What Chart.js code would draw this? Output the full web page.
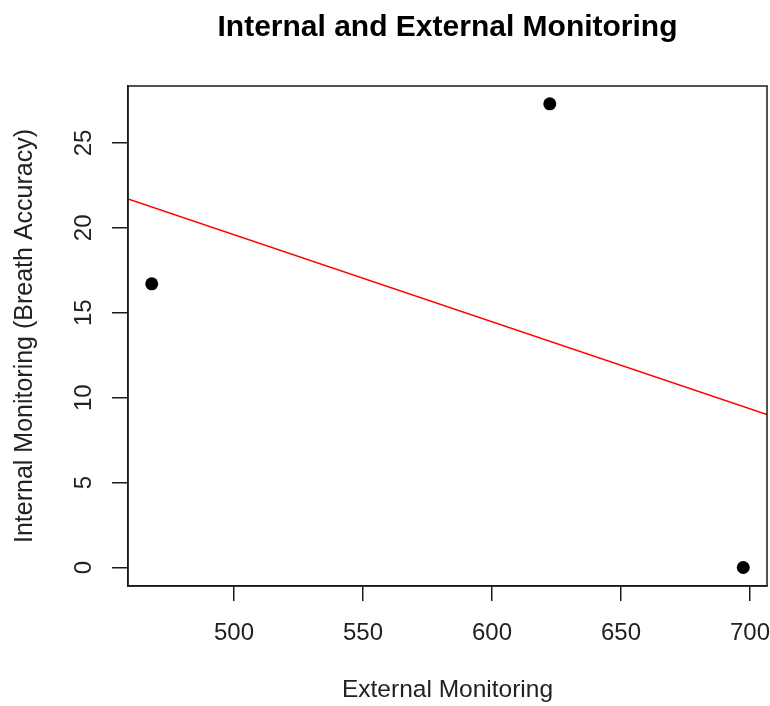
<!DOCTYPE html>
<html>
<head>
<meta charset="utf-8">
<title>Internal and External Monitoring</title>
<script src="https://cdn.jsdelivr.net/npm/chart.js@4"></script>
<style>
  html, body { margin: 0; padding: 0; background: #fff; }
  #wrap { width: 770px; height: 706px; }
</style>
</head>
<body>
<div id="wrap"><canvas id="chart" width="770" height="706"></canvas></div>
<script>
// values
const externalMonitoring = [468.1, 622.4, 697.4];
const internalMonitoring = [16.7, 27.3, 0.0];
// fitted line, ends at the plot edges
const fitX = [458.9, 706.6];
const fitY = [21.7, 9.0];
const xTicks = [500, 550, 600, 650, 700];
const yTicks = [0, 5, 10, 15, 20, 25];
const xRange = [458.9, 706.6];
const yRange = [-1.09, 28.35];

const FONT = "'Liberation Sans', Arial, Helvetica, sans-serif";
const INK = '#1a1a1a';

// R style frame, rotated y labels and the title
const rPlot = {
  id: 'rPlot',
  afterDraw(chart) {
    const ctx = chart.ctx;
    const a = chart.chartArea;
    const y = chart.scales.y;
    ctx.save();
    ctx.strokeStyle = INK;
    ctx.lineWidth = 1.5;
    ctx.strokeRect(a.left, a.top, a.right - a.left, a.bottom - a.top);

    ctx.fillStyle = '#222';
    ctx.font = '24px ' + FONT;
    ctx.textAlign = 'center';
    ctx.textBaseline = 'middle';
    y.ticks.forEach(t => {
      const py = y.getPixelForValue(t.value);
      ctx.save();
      ctx.translate(84, py);
      ctx.rotate(-Math.PI / 2);
      ctx.fillText(String(t.value), 0, 0);
      ctx.restore();
    });

    ctx.fillStyle = '#000';
    ctx.font = 'bold 30px ' + FONT;
    ctx.fillText('Internal and External Monitoring', (a.left + a.right) / 2, 28);
    ctx.restore();
  }
};

new Chart(document.getElementById('chart'), {
  type: 'scatter',
  data: {
    datasets: [
      {
        label: 'observations',
        data: externalMonitoring.map((x, i) => ({ x: x, y: internalMonitoring[i] })),
        backgroundColor: '#000',
        borderWidth: 0,
        pointRadius: 6.5,
        order: 1,
      },
      {
        type: 'line',
        label: 'fit',
        data: fitX.map((x, i) => ({ x: x, y: fitY[i] })),
        borderColor: '#ff0000',
        borderWidth: 1.5,
        pointRadius: 0,
        fill: false,
        order: 2,
      },
    ],
  },
  options: {
    responsive: false,
    animation: false,
    devicePixelRatio: 1,
    layout: { autoPadding: false, padding: { top: 86, right: 3, left: 0, bottom: 0 } },
    plugins: {
      legend: { display: false },
      tooltip: { enabled: false },
    },
    scales: {
      x: {
        type: 'linear',
        min: xRange[0],
        max: xRange[1],
        afterBuildTicks: s => { s.ticks = xTicks.map(v => ({ value: v })); },
        afterFit: s => { s.height = 120; s.paddingLeft = 0; s.paddingRight = 0; },
        grid: {
          display: true,
          drawOnChartArea: false,
          drawTicks: true,
          tickLength: 15,
          color: INK,
          lineWidth: 1.5,
        },
        border: { display: true, color: INK, width: 1.5 },
        ticks: {
          color: '#222',
          padding: 18,
          maxRotation: 0,
          font: { size: 24, family: FONT },
        },
        title: {
          display: true,
          text: 'External Monitoring',
          color: '#222',
          padding: { top: 0, bottom: 1 },
          font: { size: 24.5, family: FONT },
        },
      },
      y: {
        type: 'linear',
        min: yRange[0],
        max: yRange[1],
        afterBuildTicks: s => { s.ticks = yTicks.map(v => ({ value: v })); },
        afterFit: s => { s.width = 128; },
        grid: {
          display: true,
          drawOnChartArea: false,
          drawTicks: true,
          tickLength: 16,
          color: INK,
          lineWidth: 1.5,
        },
        border: { display: true, color: INK, width: 1.5 },
        ticks: { display: false },
        title: {
          display: true,
          text: 'Internal Monitoring (Breath Accuracy)',
          color: '#222',
          padding: { top: 10, bottom: 0 },
          font: { size: 25, family: FONT },
        },
      },
    },
  },
  plugins: [rPlot],
});
</script>
</body>
</html>
